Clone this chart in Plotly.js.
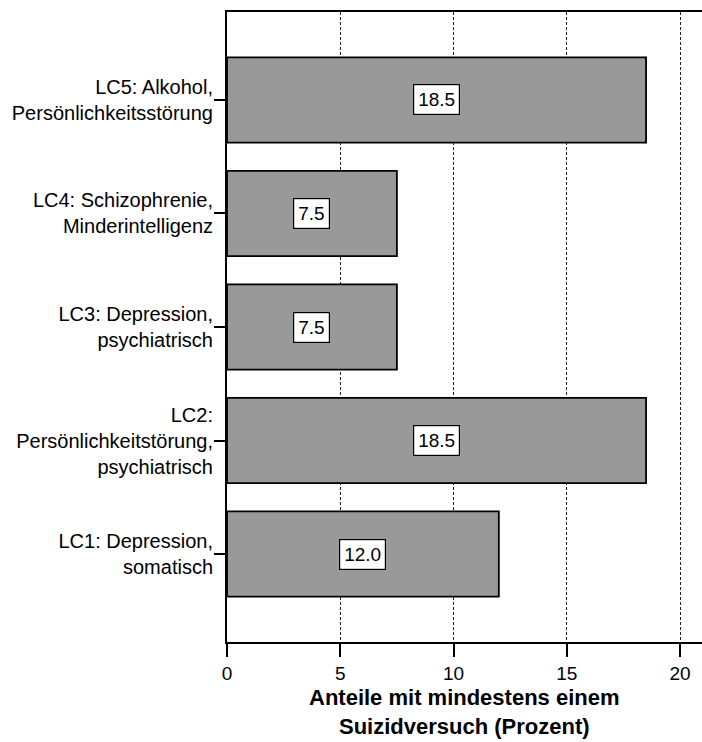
<!DOCTYPE html>
<html>
<head>
<meta charset="utf-8">
<script src="https://cdn.plot.ly/plotly-3.0.1.min.js"></script>
<style>html,body{margin:0;padding:0;background:#fff;}</style>
</head>
<body>
<div id="chart" style="width:702px;height:742px;"></div>
<script>
const categories = [
  "LC1: Depression,<br>somatisch",
  "LC2:<br>Persönlichkeitstörung,<br>psychiatrisch",
  "LC3: Depression,<br>psychiatrisch",
  "LC4: Schizophrenie,<br>Minderintelligenz",
  "LC5: Alkohol,<br>Persönlichkeitsstörung"
];
const values = [12.0, 18.5, 7.5, 7.5, 18.5];
const valueLabels = ["12.0", "18.5", "7.5", "7.5", "18.5"];
const xTicks = [0, 5, 10, 15, 20];
const xTitleLines = ["Anteile mit mindestens einem", "Suizidversuch (Prozent)"];

const FONT = "Arial, 'Liberation Sans', sans-serif";

const trace = {
  type: "bar",
  orientation: "h",
  x: values,
  y: categories,
  width: 0.75,
  marker: {color: "#999999", line: {color: "#000000", width: 1.8}},
  hoverinfo: "none"
};

const annotations = values.map((v, i) => ({
  x: v / 2,
  y: categories[i],
  xref: "x", yref: "y",
  text: valueLabels[i],
  showarrow: false,
  font: {family: FONT, size: 19, color: "#000"},
  bgcolor: "#ffffff",
  bordercolor: "#000000",
  borderwidth: 1.2,
  borderpad: 4
}));

// x-axis title, placed just below the tick labels
annotations.push({
  x: 0.5, y: -0.111, xref: "paper", yref: "paper",
  xanchor: "center", yanchor: "middle",
  text: "<b>" + xTitleLines.join("<br>") + "</b>",
  showarrow: false,
  borderpad: 0,
  font: {family: FONT, size: 22, color: "#000"}
});

const layout = {
  width: 702, height: 742,
  margin: {l: 227, r: 0, t: 12, b: 100, pad: 0},
  paper_bgcolor: "#ffffff",
  plot_bgcolor: "#ffffff",
  showlegend: false,
  font: {family: FONT, size: 19, color: "#000"},
  xaxis: {
    range: [0, 20.97],
    tickvals: xTicks,
    ticktext: xTicks.map(String),
    ticks: "outside", ticklen: 13, tickwidth: 2, tickcolor: "#000",
    showline: true, linecolor: "#000", linewidth: 2, mirror: true,
    showgrid: true, gridcolor: "#222", gridwidth: 1, griddash: "3px,2px",
    zeroline: false,
    tickfont: {family: FONT, size: 19, color: "#000"}
  },
  yaxis: {
    type: "category",
    categoryorder: "array",
    categoryarray: categories,
    range: [-0.775, 4.775],
    ticks: "outside", ticklen: 11, tickwidth: 2, tickcolor: "#000",
    ticklabelstandoff: -3,
    showline: true, linecolor: "#000", linewidth: 2, mirror: false,
    showgrid: false, zeroline: false,
    tickfont: {family: FONT, size: 20, color: "#000"}
  },
  annotations: annotations
};

Plotly.newPlot("chart", [trace], layout, {displayModeBar: false, staticPlot: true});
</script>
</body>
</html>
